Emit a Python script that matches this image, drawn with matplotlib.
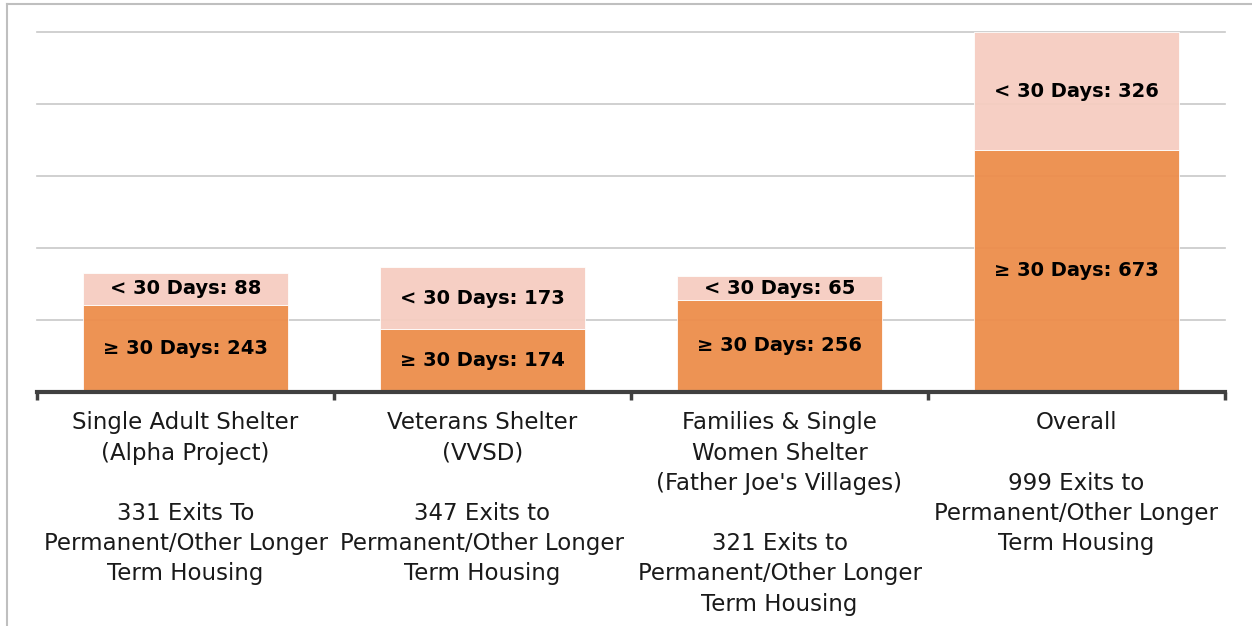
import numpy as np
import matplotlib
matplotlib.use("Agg")
import matplotlib.pyplot as plt
from matplotlib.lines import Line2D

plt.rcParams['font.family'] = ['DejaVu Sans']

# data
categories = [
    "Single Adult Shelter\n(Alpha Project)\n\n331 Exits To\nPermanent/Other Longer\nTerm Housing",
    "Veterans Shelter\n(VVSD)\n\n347 Exits to\nPermanent/Other Longer\nTerm Housing",
    "Families & Single\nWomen Shelter\n(Father Joe's Villages)\n\n321 Exits to\nPermanent/Other Longer\nTerm Housing",
    "Overall\n\n999 Exits to\nPermanent/Other Longer\nTerm Housing",
]
long_stay = [243, 174, 256, 673]   # >= 30 days
short_stay = [88, 173, 65, 326]    # < 30 days

dark = "#ED8D4B"
light = "#F6CDC1"

fig = plt.figure(figsize=(12.52, 6.26), dpi=100)
ax = fig.add_axes([37/1252, 1 - 392/626, (1225-37)/1252, (392-32)/626])

x = np.arange(len(categories))
w = 0.69
ax.bar(x, long_stay, w, color=dark, alpha=0.95, zorder=3, edgecolor="white", linewidth=0.6)
ax.bar(x, short_stay, w, bottom=long_stay, color=light, alpha=0.95, zorder=3,
       edgecolor="white", linewidth=0.6)

for i in range(len(x)):
    ax.text(x[i], long_stay[i] / 2, "≥ 30 Days: %d" % long_stay[i], ha="center", va="center",
            fontsize=14, fontweight="bold", color="black", zorder=4)
    ax.text(x[i], long_stay[i] + short_stay[i] / 2, "< 30 Days: %d" % short_stay[i],
            ha="center", va="center", fontsize=14, fontweight="bold", color="black", zorder=4)

ax.set_xlim(-0.5, len(categories) - 0.5)
ax.set_ylim(0, 1000)
ax.set_yticks([200, 400, 600, 800, 1000])
ax.yaxis.grid(True, color="#c8c8c8", linewidth=1.2, zorder=0)
for gl in ax.get_ygridlines():
    gl.set_clip_on(False)
ax.tick_params(axis="y", length=0, labelleft=False)

ax.set_xticks(x)
ax.set_xticklabels(categories, fontsize=16.5, color="#1a1a1a", linespacing=1.4)
ax.tick_params(axis="x", which="major", length=0, pad=14)
ax.set_xticks(np.arange(-0.5, len(categories)), minor=True)
ax.tick_params(axis="x", which="minor", length=6, width=2.5, color="#404040")

for s in ["top", "right", "left"]:
    ax.spines[s].set_visible(False)
ax.spines["bottom"].set_color("#404040")
ax.spines["bottom"].set_linewidth(3)
ax.spines["bottom"].set_zorder(5)

# outer frame (top and left edges)
fig.add_artist(Line2D([7/1252, 7/1252], [0, 1 - 4/626], color="#bfbfbf", linewidth=1.5))
fig.add_artist(Line2D([7/1252, 1], [1 - 4/626, 1 - 4/626], color="#bfbfbf", linewidth=1.5))

fig.savefig("out.png", dpi=100)
